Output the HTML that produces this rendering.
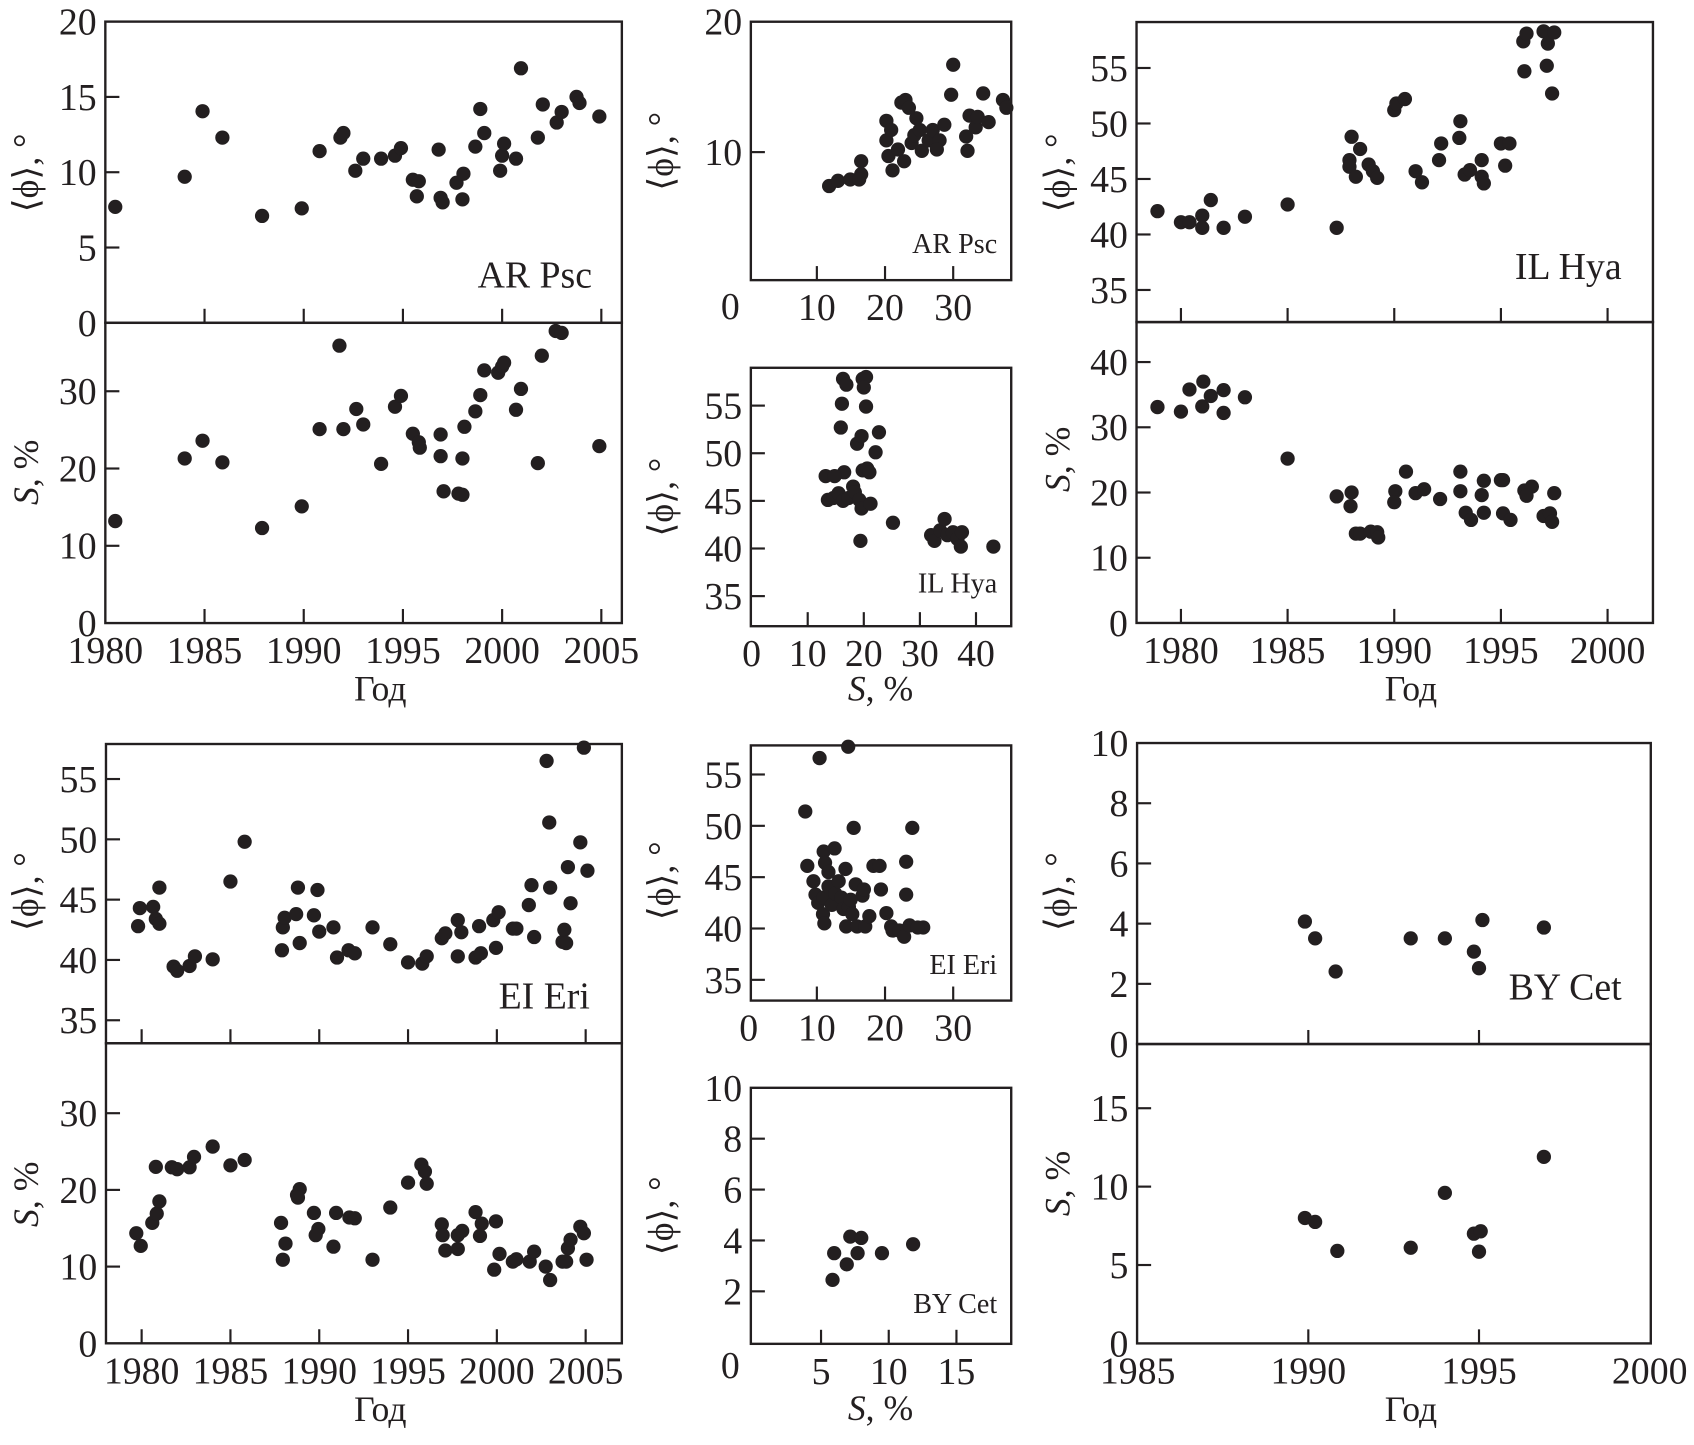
<!DOCTYPE html>
<html><head><meta charset="utf-8"><style>
html,body{margin:0;padding:0;background:#fff;}
svg{display:block;}
text{font-family:"Liberation Serif",serif;fill:#231f20;}
</style></head><body>
<svg id="fig" width="1694" height="1445" viewBox="0 0 1568 1337" preserveAspectRatio="none" xmlns="http://www.w3.org/2000/svg"></svg>
<script>
// ---------- DATA ----------
const arYears=[1980.5,1984.0,1984.9,1985.9,1987.9,1989.9,1990.8,1991.85,1992.0,1992.6,1993.0,1993.9,1994.6,1994.9,1995.5,1995.8,1995.7,1996.8,1996.9,1997.0,1997.7,1998.05,1998.0,1998.65,1998.9,1999.1,1999.9,2000.0,2000.1,2000.7,2000.95,2001.8,2002.05,2002.75,2003.0,2003.75,2003.9,2004.9];
const arPhi=[7.7,9.7,14.05,12.3,7.1,7.6,11.4,12.3,12.6,10.1,10.9,10.9,11.1,11.6,9.5,9.4,8.4,11.5,8.3,8.0,9.3,9.9,8.2,11.7,14.2,12.6,10.1,11.1,11.9,10.9,16.9,12.3,14.5,13.3,14.0,15.0,14.6,13.7];
const arSYears=[1980.5,1984.0,1984.9,1985.9,1987.9,1989.9,1990.8,1991.8,1992.0,1992.65,1993.0,1993.9,1994.6,1994.9,1995.5,1995.8,1995.85,1996.9,1996.9,1997.05,1997.8,1998.0,1998.0,1998.1,1998.65,1998.9,1999.1,1999.8,2000.0,2000.1,2000.7,2000.95,2001.8,2002.0,2002.7,2003.0,2004.9];
const arS=[13.2,21.3,23.6,20.8,12.3,15.1,25.1,35.9,25.1,27.7,25.7,20.6,28.0,29.4,24.5,23.4,22.7,24.4,21.6,17.05,16.75,16.6,21.3,25.4,27.4,29.5,32.7,32.4,33.2,33.7,27.6,30.3,20.7,34.6,37.8,37.55,22.9];
const arCorrS=[11.8,13.1,14.9,16.5,16.5,16.2,20.2,20.2,20.5,21.1,22.4,23.0,22.8,23.9,24.6,24.3,25.1,25.4,26.4,27.0,28.0,28.7,29.7,30.0,27.6,31.9,32.4,32.1,33.3,33.6,34.4,35.2,37.3,37.8,20.9,23.5,21.9];
const arCorrPhi=[7.4,7.8,7.9,9.3,8.3,7.9,12.4,10.9,9.7,8.6,13.8,14.0,9.3,10.7,12.6,11.3,11.7,10.1,10.9,11.7,10.9,12.1,14.4,16.7,10.2,11.2,12.8,10.1,11.9,12.7,14.5,12.3,14.0,13.4,11.7,13.4,10.2];
const ilCorrS=[13.6,14.6,13.2,15.5,16.3,16.5,15.9,16.1,16.3,16.9,17.3,18.1,18.4,19.2,18.8,19.6,19.8,20.4,20.0,20.4,19.8,20.6,19.6,21.2,21.0,22.1,22.7,19.4,25.2,32.0,32.6,33.6,34.4,34.9,35.9,36.7,37.3,37.5,43.1,14.8];
const ilCorrPhi=[45.1,45.3,47.6,45.8,45.0,48.0,52.7,55.2,57.8,57.2,45.3,46.5,45.9,45.1,51.0,51.8,57.8,58.0,56.9,54.9,48.2,48.4,44.2,44.7,48.0,50.1,52.2,40.8,42.7,41.4,40.8,41.9,43.1,41.4,41.7,41.0,40.2,41.7,40.2,47.6];
const ilYears=[1978.9,1980.0,1980.4,1981.0,1981.0,1981.4,1982.0,1983.0,1985.0,1987.3,1988.0,1988.4,1987.9,1987.9,1988.2,1988.8,1989.0,1989.2,1990.0,1990.1,1990.5,1991.0,1991.3,1992.1,1992.2,1993.05,1993.1,1993.3,1993.55,1994.1,1994.1,1994.2,1995.0,1995.4,1995.2,1996.1,1996.05,1996.2,1997.0,1997.2,1997.5,1997.15,1997.4];
const ilPhi=[42.1,41.1,41.1,41.7,40.6,43.1,40.6,41.6,42.7,40.6,48.8,47.7,46.7,46.1,45.2,46.3,45.7,45.1,51.2,51.8,52.2,45.7,44.7,46.7,48.2,48.7,50.2,45.4,45.8,46.7,45.2,44.6,48.2,48.2,46.2,54.7,57.4,58.1,58.3,57.2,58.2,55.2,52.7];
const ilSYears=[1978.9,1980.0,1980.4,1981.05,1981.0,1981.4,1982.0,1982.0,1983.0,1985.0,1987.3,1988.0,1987.95,1988.2,1988.4,1988.9,1989.2,1989.25,1990.05,1990.0,1990.55,1991.0,1991.4,1992.15,1993.1,1993.1,1993.35,1993.6,1994.2,1994.1,1994.2,1995.0,1995.1,1995.1,1995.45,1996.1,1996.45,1996.2,1997.0,1997.3,1997.4,1997.5];
const ilS=[33.1,32.4,35.8,37.0,33.2,34.8,35.7,32.2,34.6,25.2,19.4,20.0,17.9,13.7,13.7,14.0,13.9,13.1,20.2,18.5,23.2,19.9,20.5,19.0,23.2,20.2,16.9,15.8,21.8,19.6,16.9,21.9,21.9,16.8,15.8,20.3,20.9,19.5,16.4,16.8,15.5,19.9];
const eiYears=[1979.8,1979.9,1980.65,1980.8,1981.0,1981.0,1981.8,1982.0,1982.7,1983.0,1984.0,1985.0,1985.8,1987.9,1987.95,1988.05,1988.8,1988.7,1988.9,1989.9,1989.7,1990.0,1990.8,1991.0,1991.65,1992.0,1993.0,1994.0,1995.0,1995.8,1996.05,1996.9,1997.1,1997.8,1997.8,1998.0,1998.8,1999.1,1999.0,1999.8,2000.1,1999.95,2000.9,2001.1,2001.8,2001.95,2002.1,2002.8,2002.95,2003.0,2003.7,2003.8,2004.0,2004.15,2004.7,2004.9,2005.1,2003.9];
const eiPhi=[42.8,44.3,44.4,43.4,43.0,46.0,39.45,39.1,39.5,40.3,40.05,46.5,49.8,40.8,42.7,43.5,46.0,43.8,41.4,45.8,43.7,42.35,42.7,40.2,40.8,40.55,42.7,41.3,39.8,39.7,40.3,41.8,42.2,40.3,43.3,42.3,40.2,40.55,42.8,43.3,43.95,41.0,42.6,42.6,44.55,46.2,41.9,56.5,51.4,46.0,41.5,42.5,47.7,44.7,49.75,57.6,47.4,41.4];
const eiSYears=[1979.7,1979.95,1980.6,1980.85,1981.0,1980.8,1981.7,1982.0,1982.7,1982.95,1984.0,1985.0,1985.8,1987.85,1988.1,1987.95,1988.75,1988.9,1988.8,1989.7,1989.95,1989.8,1990.8,1990.95,1991.7,1992.0,1993.0,1994.0,1995.0,1995.75,1995.95,1996.05,1996.9,1996.95,1997.1,1997.8,1997.8,1998.05,1998.8,1999.15,1999.05,1999.95,2000.15,1999.85,2000.9,2001.1,2001.85,2002.1,2002.75,2003.0,2003.7,2003.9,2004.0,2004.15,2004.7,2004.9,2005.05];
const eiS=[14.35,12.7,15.7,16.9,18.5,23.0,22.95,22.7,22.95,24.3,25.65,23.2,23.9,15.7,13.0,10.9,19.35,20.1,19.0,17.0,14.9,14.1,12.6,17.0,16.4,16.3,10.9,17.7,20.95,23.3,22.4,20.8,15.5,14.1,12.1,12.3,14.1,14.65,17.1,15.6,14.0,15.9,11.65,9.6,10.65,10.95,10.65,11.95,10.0,8.25,10.65,10.65,12.4,13.5,15.2,14.35,10.9];
const eiCorrS=[8.3,10.4,14.6,8.6,11.0,11.2,12.6,15.4,14.2,9.8,9.5,10.2,10.9,11.0,11.7,12.2,12.7,13.2,13.6,13.9,14.3,14.7,15.2,15.7,15.9,16.7,16.9,17.1,17.7,18.3,19.2,19.4,20.2,20.9,21.1,22.1,22.8,23.6,23.1,23.1,24.0,25.6,24.8,11.1,14.95,11.7];
const eiCorrPhi=[51.4,56.6,57.7,46.1,47.5,46.4,47.8,49.8,45.8,43.3,44.6,42.5,41.4,43.0,44.1,42.3,43.4,44.6,43.0,41.9,40.2,42.1,41.4,44.3,40.2,43.2,43.8,40.2,41.2,46.1,46.1,43.8,41.5,40.2,39.8,39.8,39.2,40.3,43.3,46.5,49.8,40.1,40.1,40.5,42.8,45.5];
const byCorrS=[5.85,5.97,6.9,7.16,7.7,7.97,9.5,11.8];
const byCorrPhi=[2.45,3.5,3.06,4.15,3.5,4.1,3.5,3.85];
const byYears=[1989.9,1990.2,1990.8,1993.0,1994.0,1994.85,1995.1,1995.0,1996.9];
const byPhi=[4.07,3.51,2.41,3.51,3.51,3.07,4.12,2.52,3.87];
const bySYears=[1989.9,1990.2,1990.85,1993.0,1994.0,1994.85,1995.05,1995.0,1996.9];
const byS=[8.0,7.75,5.9,6.1,9.6,7.0,7.15,5.85,11.9];

// ---------- DRAWING ----------
const NS='http://www.w3.org/2000/svg';
const svg=document.getElementById('fig');
const TF=35;
function mk(tag,attrs,parent){const e=document.createElementNS(NS,tag);for(const k in attrs)e.setAttribute(k,attrs[k]);(parent||svg).appendChild(e);return e;}
function lin(v1,p1,v2,p2){const k=(p2-p1)/(v2-v1);return v=>p1+(v-v1)*k;}
function label(str,x,y,size,anchor,name,extra){
  const t=mk('text',Object.assign({x:x,y:y,'font-size':size,'text-anchor':anchor||'middle'},extra||{}));
  t.textContent=str;
  
  
  return t;
}
function frame(x0,y0,x1,y1,name){
  const r=mk('rect',{x:x0,y:y0,width:x1-x0,height:y1-y0,fill:'none',stroke:'#231f20','stroke-width':2.2});
  
  
}
function tick(x1,y1,x2,y2,name){
  const l=mk('line',{x1:x1,y1:y1,x2:x2,y2:y2,stroke:'#231f20','stroke-width':2});
  
  
}
function yTicks(sy,x0,vals,name,labelVals){
  vals.forEach(v=>{tick(x0,sy(v),x0+13,sy(v),name+'-tick');});
  (labelVals||vals).forEach(v=>{label(String(v),x0-8,sy(v)+12,TF,'end',name+'-label');});
}
function xTicks(sx,yb,vals,name,labelVals,noLabels){
  vals.forEach(v=>{tick(sx(v),yb,sx(v),yb-13,name+'-tick');});
  if(!noLabels)(labelVals||vals).forEach(v=>{label(String(v),sx(v),yb+37,TF,'middle',name+'-label');});
}
function dots(xs,ys,sx,sy,name){
  const g=mk('g',{});
  
  
  for(let i=0;i<xs.length;i++){
    const c=mk('circle',{cx:sx(xs[i]),cy:sy(ys[i]),r:6.6,fill:'#231f20'},g);
    
    
  }
}
function phiTitle(x,y,name){
  const t=mk('text',{x:0,y:0,'font-size':33,'text-anchor':'middle',transform:`translate(${x},${y}) rotate(-90)`});
  t.textContent='⟨ϕ⟩, °';
  
  
}
function sTitle(x,y,name){
  const t=mk('text',{x:0,y:0,'font-size':33,'text-anchor':'middle',transform:`translate(${x},${y}) rotate(-90)`});
  const a=mk('tspan',{'font-style':'italic'},t);a.textContent='S';
  const b=mk('tspan',{},t);b.textContent=', %';
  
  
}
function sxTitle(x,y,name){
  const t=mk('text',{x:x,y:y,'font-size':33,'text-anchor':'middle'});
  const a=mk('tspan',{'font-style':'italic'},t);a.textContent='S';
  const b=mk('tspan',{},t);b.textContent=', %';
  
  
}

// ===== AR Psc time =====
(function(){
  const x0=97.5,x1=575.6,yt=20,ym=298.7,yb=576.5;
  const sx=lin(1980,97.5,2005,556.6);
  const syT=lin(0,298.7,20,20);
  const syB=lin(0,576.5,30,362);
  frame(x0,yt,x1,ym,'ar-psc-phi-frame');frame(x0,ym,x1,yb,'ar-psc-s-frame');
  yTicks(syT,x0,[5,10,15],'ar-psc-phi-y',[0,5,10,15,20]);
  yTicks(syB,x0,[10,20,30],'ar-psc-s-y',[0,10,20,30]);
  xTicks(sx,ym,[1985,1990,1995,2000,2005],'ar-psc-top-x',null,true);
  xTicks(sx,yb,[1985,1990,1995,2000,2005],'ar-psc-x',[1980,1985,1990,1995,2000,2005]);
  label('AR Psc',548,266,35,'end','ar-psc-label');
  label('Год',352,648,33,'middle','ar-psc-x-title');
  phiTitle(35,160,'ar-psc-phi-title');sTitle(35,437,'ar-psc-s-title');
  dots(arYears,arPhi,sx,syT,'ar-psc-phi-series');
  dots(arSYears,arS,sx,syB,'ar-psc-s-series');
})();

// ===== AR Psc phi vs S =====
(function(){
  const x0=695,x1=936,yt=20.1,yb=259.2;
  const sx=lin(0,693,10,756.1);
  const sy=lin(0,261.4,20,20.1);
  frame(x0,yt,x1,yb,'ar-psc-corr-frame');
  yTicks(sy,x0,[10],'ar-psc-corr-y',[10,20]);
  xTicks(sx,yb,[10,20,30],'ar-psc-corr-x');
  label('0',676,295,TF,'middle','ar-psc-corr-origin-label');
  label('AR Psc',923,234,26,'end','ar-psc-corr-label');
  phiTitle(623,140,'ar-psc-corr-phi-title');
  dots(arCorrS,arCorrPhi,sx,sy,'ar-psc-corr-series');
})();

// ===== IL Hya phi vs S =====
(function(){
  const x0=695,x1=936,yt=340.3,yb=579.4;
  const sx=lin(0,695.7,40,903.4);
  const sy=lin(55,375.3,40,507.5);
  frame(x0,yt,x1,yb,'il-hya-corr-frame');
  yTicks(sy,x0,[35,40,45,50,55],'il-hya-corr-y');
  xTicks(sx,yb,[10,20,30,40],'il-hya-corr-x',[0,10,20,30,40]);
  label('IL Hya',923,548,26,'end','il-hya-corr-label');
  phiTitle(623,460,'il-hya-corr-phi-title');
  sxTitle(815,648,'il-hya-corr-x-title');
  dots(ilCorrS,ilCorrPhi,sx,sy,'il-hya-corr-series');
})();

// ===== IL Hya time =====
(function(){
  const x0=1052,x1=1530,yt=20.4,ym=298,yb=576.4;
  const sx=lin(1980,1093.1,2000,1488);
  const syT=lin(55,62.9,35,268.3);
  const syB=lin(0,576.4,40,335);
  frame(x0,yt,x1,ym,'il-hya-phi-frame');frame(x0,ym,x1,yb,'il-hya-s-frame');
  yTicks(syT,x0,[35,40,45,50,55],'il-hya-phi-y');
  yTicks(syB,x0,[10,20,30,40],'il-hya-s-y',[0,10,20,30,40]);
  xTicks(sx,ym,[1980,1985,1990,1995,2000],'il-hya-top-x',null,true);
  xTicks(sx,yb,[1980,1985,1990,1995,2000],'il-hya-x');
  label('IL Hya',1501,258,35,'end','il-hya-label');
  label('Год',1306,648,33,'middle','il-hya-x-title');
  phiTitle(990,160,'il-hya-phi-title');sTitle(990,425,'il-hya-s-title');
  dots(ilYears,ilPhi,sx,syT,'il-hya-phi-series');
  dots(ilSYears,ilS,sx,syB,'il-hya-s-series');
})();

// ===== EI Eri time =====
(function(){
  const x0=98.1,x1=575.6,yt=688.4,ym=965.3,yb=1242.9;
  const sx=lin(1980,131.1,2005,542.1);
  const syT=lin(55,720.8,35,944);
  const syB=lin(0,1242.9,30,1030);
  frame(x0,yt,x1,ym,'ei-eri-phi-frame');frame(x0,ym,x1,yb,'ei-eri-s-frame');
  yTicks(syT,x0,[35,40,45,50,55],'ei-eri-phi-y');
  yTicks(syB,x0,[10,20,30],'ei-eri-s-y',[0,10,20,30]);
  xTicks(sx,ym,[1980,1985,1990,1995,2000,2005],'ei-eri-top-x',null,true);
  xTicks(sx,yb,[1980,1985,1990,1995,2000,2005],'ei-eri-x');
  label('EI Eri',546,933,35,'end','ei-eri-label');
  label('Год',352,1315,33,'middle','ei-eri-x-title');
  phiTitle(35,825,'ei-eri-phi-title');sTitle(35,1105,'ei-eri-s-title');
  dots(eiYears,eiPhi,sx,syT,'ei-eri-phi-series');
  dots(eiSYears,eiS,sx,syB,'ei-eri-s-series');
})();

// ===== EI Eri phi vs S =====
(function(){
  const x0=695,x1=936,yt=689.7,yb=925.8;
  const sx=lin(0,693,10,756.1);
  const sy=lin(55,716.6,35,906.6);
  frame(x0,yt,x1,yb,'ei-eri-corr-frame');
  yTicks(sy,x0,[35,40,45,50,55],'ei-eri-corr-y');
  xTicks(sx,yb,[10,20,30],'ei-eri-corr-x',[0,10,20,30]);
  label('EI Eri',923,901,26,'end','ei-eri-corr-label');
  phiTitle(623,815,'ei-eri-corr-phi-title');
  dots(eiCorrS,eiCorrPhi,sx,sy,'ei-eri-corr-series');
})();

// ===== BY Cet phi vs S =====
(function(){
  const x0=695,x1=936,yt=1006.5,yb=1243.4;
  const sx=lin(0,697.3,15,885.3);
  const sy=lin(0,1241.9,10,1006.5);
  frame(x0,yt,x1,yb,'by-cet-corr-frame');
  yTicks(sy,x0,[2,4,6,8],'by-cet-corr-y',[2,4,6,8,10]);
  xTicks(sx,yb,[5,10,15],'by-cet-corr-x');
  label('0',676,1275,TF,'middle','by-cet-corr-origin-label');
  label('BY Cet',923,1215,26,'end','by-cet-corr-label');
  phiTitle(623,1125,'by-cet-corr-phi-title');
  sxTitle(815,1314,'by-cet-corr-x-title');
  dots(byCorrS,byCorrPhi,sx,sy,'by-cet-corr-series');
})();

// ===== BY Cet time =====
(function(){
  const x0=1052.5,x1=1528,yt=687.5,ym=966,yb=1243;
  const sx=lin(1990,1211,1995,1369);
  const syT=lin(0,966,10,687.5);
  const syB=lin(0,1243,15,1025.4);
  frame(x0,yt,x1,ym,'by-cet-phi-frame');frame(x0,ym,x1,yb,'by-cet-s-frame');
  yTicks(syT,x0,[2,4,6,8],'by-cet-phi-y',[0,2,4,6,8,10]);
  yTicks(syB,x0,[5,10,15],'by-cet-s-y',[0,5,10,15]);
  xTicks(sx,ym,[1990,1995],'by-cet-top-x',null,true);
  xTicks(sx,yb,[1990,1995],'by-cet-x',[1985,1990,1995,2000]);
  label('BY Cet',1501,925,35,'end','by-cet-label');
  label('Год',1306,1315,33,'middle','by-cet-x-title');
  phiTitle(990,825,'by-cet-phi-title');sTitle(990,1095,'by-cet-s-title');
  dots(byYears,byPhi,sx,syT,'by-cet-phi-series');
  dots(bySYears,byS,sx,syB,'by-cet-s-series');
})();
</script>
</body></html>
